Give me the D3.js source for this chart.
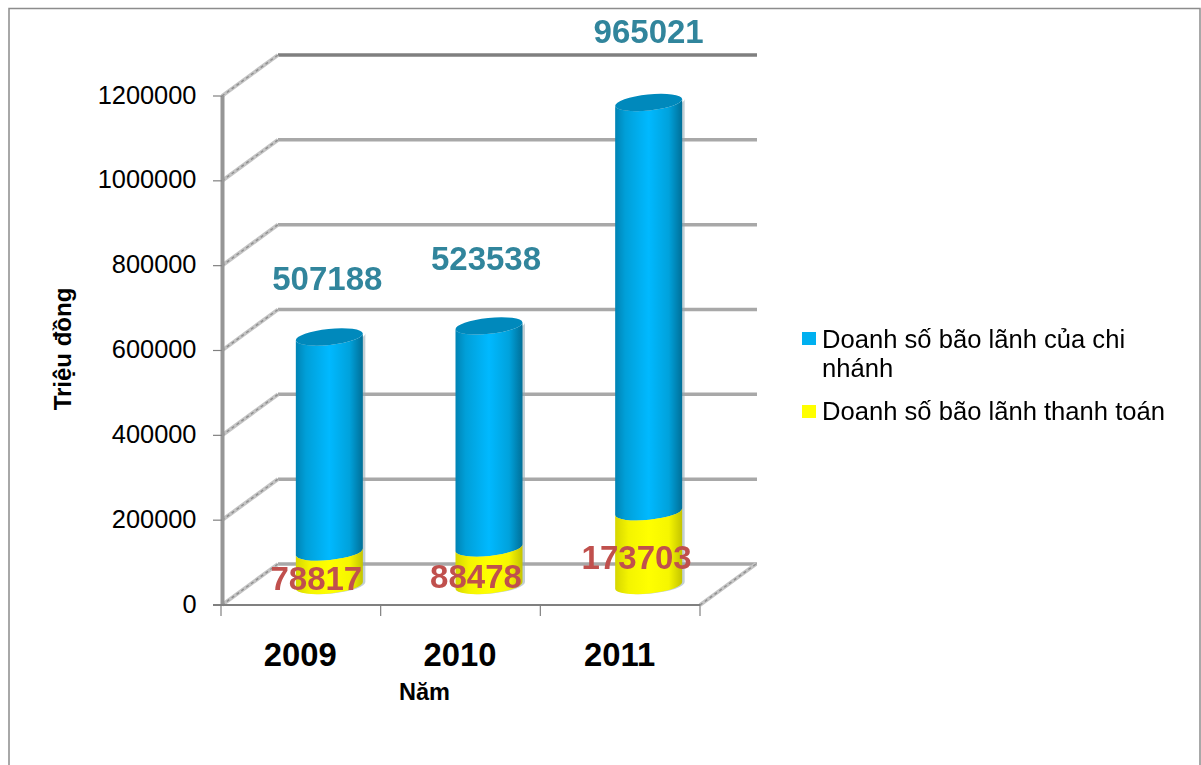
<!DOCTYPE html>
<html><head><meta charset="utf-8">
<script src="https://cdnjs.cloudflare.com/ajax/libs/d3/7.8.5/d3.min.js"></script>
<style>html,body{margin:0;padding:0;background:#fff;overflow:hidden}svg{display:block}text{font-family:"Liberation Sans",Arial,sans-serif}</style>
</head><body><svg id="c" width="1201" height="765"></svg>
<script>
const years = ["2009","2010","2011"];
const payment = [78817, 88478, 173703];
const branch = [507188, 523538, 965021];
const yTicks = [0,200000,400000,600000,800000,1000000,1200000];
const seriesNames = [["Doanh số bão lãnh của chi","nhánh"],["Doanh số bão lãnh thanh toán"]];
const yTitle = "Triệu đồng", xTitle = "Năm";

const svg = d3.select("#c");
const W = 1201, H = 765;
const x = d3.scaleBand().domain(years).range([221,700]);
const y = d3.scaleLinear().domain([0,1200000]).range([605,96]);
const depthX = 57, depthY = 41;
const midX = 28.5, midY = 19.5;
const rx = 33.5, ry = 8, tilt = 3.5;

// frame
svg.append("path").attr("d",`M9,${H} V8.5 H1200 V${H}`).attr("fill","none").attr("stroke","#8c8c8c").attr("stroke-width",1.5);

// gradients
const defs = svg.append("defs");
function grad(id,stops){
  const g = defs.append("linearGradient").attr("id",id).attr("x1",0).attr("x2",1).attr("y1",0).attr("y2",0);
  stops.forEach(s=>g.append("stop").attr("offset",s[0]).attr("stop-color",s[1]));
}
grad("gBlue",[[0,"#0083b4"],[0.15,"#009fd8"],[0.5,"#00b9ff"],[0.8,"#00a2dc"],[1,"#006f98"]]);
grad("gYel",[[0,"#d6d600"],[0.2,"#f4f400"],[0.5,"#ffff00"],[0.8,"#f6f600"],[1,"#c4c400"]]);
defs.append("filter").attr("id","soft").append("feGaussianBlur").attr("stdDeviation",0.6);

// gridlines on back wall and depth lines
const grid = svg.append("g").attr("filter","url(#soft)");
grid.selectAll("line.back").data(yTicks).join("line").attr("class","back")
  .attr("x1",222+depthX-1).attr("x2",700+depthX)
  .attr("y1",d=>y(d)-depthY).attr("y2",d=>y(d)-depthY)
  .attr("stroke",d=>d===1200000?"#7f7f7f":"#a8a8a8").attr("stroke-width",3.5);
const depthEnds = yTicks.map(d=>[222,y(d)]).concat([[700,y(0)]]);
grid.selectAll("line.depth").data(depthEnds).join("line").attr("class","depth")
  .attr("x1",d=>d[0]).attr("x2",d=>d[0]+depthX-1)
  .attr("y1",d=>d[1]).attr("y2",d=>d[1]-depthY)
  .attr("stroke","#c4c4c4").attr("stroke-width",4);
grid.selectAll("line.depth2").data(depthEnds).join("line").attr("class","depth2")
  .attr("x1",d=>d[0]).attr("x2",d=>d[0]+depthX-1)
  .attr("y1",d=>d[1]).attr("y2",d=>d[1]-depthY)
  .attr("stroke","#8e8e8e").attr("stroke-width",1.4).attr("stroke-dasharray","3 3");

// axes
svg.append("line").attr("x1",222.5).attr("x2",222.5).attr("y1",y(1200000)).attr("y2",y(0))
  .attr("stroke","#969696").attr("stroke-width",4);
svg.append("line").attr("x1",213).attr("x2",700).attr("y1",y(0)).attr("y2",y(0))
  .attr("stroke","#808080").attr("stroke-width",2);
svg.selectAll("line.ty").data(yTicks).join("line").attr("class","ty")
  .attr("x1",213).attr("x2",222).attr("y1",d=>y(d)).attr("y2",d=>y(d))
  .attr("stroke","#808080").attr("stroke-width",1.2);
const xEdges = years.map(d=>x(d)).concat([x.range()[1]]);
svg.selectAll("line.tx").data(xEdges).join("line").attr("class","tx")
  .attr("x1",d=>d).attr("x2",d=>d).attr("y1",y(0)).attr("y2",y(0)+11)
  .attr("stroke","#808080").attr("stroke-width",1.2);
svg.selectAll("text.yl").data(yTicks).join("text").attr("class","yl")
  .attr("x",196.5).attr("y",d=>y(d)+7.5).attr("text-anchor","end")
  .attr("font-size",25.4).attr("fill","#000").text(d=>d);
svg.selectAll("text.xl").data(years).join("text").attr("class","xl")
  .attr("x",d=>x(d)+x.bandwidth()/2-0.5).attr("y",666).attr("text-anchor","middle")
  .attr("font-size",32.8).attr("font-weight","bold").attr("fill","#000").text(d=>d);
svg.append("text").attr("x",424.5).attr("y",700).attr("text-anchor","middle")
  .attr("font-size",23.5).attr("font-weight","bold").text(xTitle);
svg.append("text").attr("transform","translate(71,349) rotate(-90)").attr("text-anchor","middle")
  .attr("font-size",24).attr("font-weight","bold").text(yTitle);

// cylinders
function bodyPath(cx,yBase,yTop){
  const L=cx-rx,R=cx+rx,rot=-Math.atan2(tilt,rx)*180/Math.PI,A=Math.hypot(rx,tilt);
  return `M${L},${yTop+tilt} A${A},${ry} ${rot} 0 0 ${R},${yTop-tilt} L${R},${yBase-tilt} A${A},${ry} ${rot} 0 1 ${L},${yBase+tilt} Z`;
}
const marks = svg.append("g").attr("filter","url(#soft)");
years.forEach((yr,i)=>{
  const cx = x(yr)+x.bandwidth()/2+midX;
  const y0 = y(0)-midY, h1 = y(0)-y(payment[i]), h2 = y(0)-y(payment[i]+branch[i]);
  const yMid = y0-h1, yTop = y0-h2;
  marks.append("path").attr("d",bodyPath(cx+2.5,y0,yTop)).attr("fill","#8fa8b3").attr("opacity",0.55);
  marks.append("path").attr("d",bodyPath(cx,yMid,yTop)).attr("fill","url(#gBlue)");
  marks.append("path").attr("d",bodyPath(cx,y0,yMid)).attr("fill","url(#gYel)");
  const rot=-Math.atan2(tilt,rx)*180/Math.PI;
  marks.append("ellipse").attr("cx",0).attr("cy",0).attr("rx",Math.hypot(rx,tilt)).attr("ry",ry)
    .attr("transform",`translate(${cx},${yTop}) rotate(${rot})`).attr("fill","#0089bc");
});

// data labels: hand-placed in the original, so each carries its own nudge from its segment
const branchNudge = [[-2,-59],[-3,-68],[0,-71]];
const paymentNudge = [[-13,26],[-13,28],[-12,45]];
years.forEach((yr,i)=>{
  const cx = x(yr)+x.bandwidth()/2+midX, y0 = y(0)-midY;
  const yMid = y0-(y(0)-y(payment[i])), yTop = y0-(y(0)-y(payment[i]+branch[i]));
  svg.append("text").attr("x",cx+branchNudge[i][0]).attr("y",yTop+branchNudge[i][1]+12)
    .attr("text-anchor","middle").attr("font-size",33).attr("font-weight","bold").attr("fill","#31859c").text(branch[i]);
  svg.append("text").attr("x",cx+paymentNudge[i][0]).attr("y",yMid+paymentNudge[i][1]+12)
    .attr("text-anchor","middle").attr("font-size",33).attr("font-weight","bold").attr("fill","#c0504d").text(payment[i]);
});

// legend
const legendColors = ["#00b0f0","#ffff00"];
const legendY = [332,405];
const legendBase = [16,15];
seriesNames.forEach((lines,i)=>{
  svg.append("rect").attr("x",802).attr("y",legendY[i]).attr("width",14).attr("height",13).attr("fill",legendColors[i]);
  lines.forEach((t,j)=>{
    svg.append("text").attr("x",822).attr("y",legendY[i]+legendBase[i]+j*29).attr("font-size",25.6).attr("fill","#000").text(t);
  });
});
</script></body></html>
